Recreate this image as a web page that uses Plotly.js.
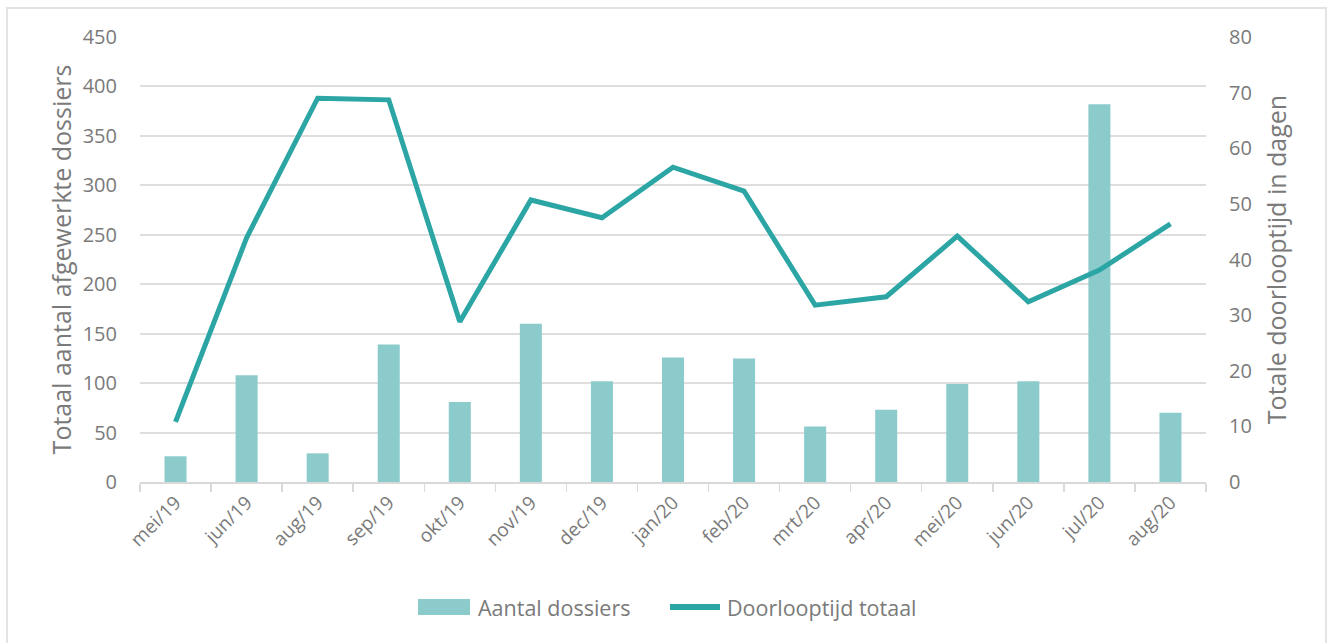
<!DOCTYPE html>
<html>
<head>
<meta charset="utf-8">
<script src="https://cdn.plot.ly/plotly-3.0.1.min.js"></script>
<style>
  html, body { margin: 0; padding: 0; background: #fff; }
  #wrap { position: relative; width: 1333px; height: 643px; overflow: hidden; }
  #frame { position: absolute; left: 6px; top: 7px; width: 1321px; height: 650px; border: 2px solid #e3e3e3; box-sizing: border-box; pointer-events: none; }
  #chart { position: absolute; left: 0; top: 0; width: 1333px; height: 643px; }
</style>
</head>
<body>
<div id="wrap">
  <div id="chart"></div>
  <div id="frame"></div>
</div>
<script>
const categories = ["mei/19","jun/19","aug/19","sep/19","okt/19","nov/19","dec/19","jan/20","feb/20","mrt/20","apr/20","mei/20","jun/20","jul/20","aug/20"];
const aantalDossiers = [26, 108, 29, 139, 81, 160, 102, 126, 125, 56, 73, 99, 102, 382, 70];
const doorlooptijdTotaal = [10.8, 43.9, 69.0, 68.7, 28.8, 50.7, 47.5, 56.6, 52.3, 31.8, 33.3, 44.2, 32.4, 38.1, 46.4];
const leftTicks = [0, 50, 100, 150, 200, 250, 300, 350, 400, 450];
const rightTicks = [0, 10, 20, 30, 40, 50, 60, 70, 80];
const legendNames = ["Aantal dossiers", "Doorlooptijd totaal"];

const FONT = "'Open Sans', Lato, sans-serif";
const GREY = "#7a7a7a";
const BAR = "#8ccbcc";
const LINE = "#2ca5a5";

const traces = [
  {
    type: "bar",
    name: legendNames[0],
    x: categories,
    y: aantalDossiers,
    marker: { color: BAR },
    yaxis: "y"
  },
  {
    type: "scatter",
    mode: "lines",
    name: legendNames[1],
    x: categories,
    y: doorlooptijdTotaal,
    line: { color: LINE, width: 5 },
    yaxis: "y2"
  }
];

// custom legend (paper coordinates: plot area x 140..1206, y 37..482)
const W = 1066, H = 445;
const px = v => (v - 140) / W;
const py = v => (482 - v) / H;

const layout = {
  width: 1333,
  height: 643,
  margin: { l: 140, r: 127, t: 37, b: 161 },
  paper_bgcolor: "#ffffff",
  plot_bgcolor: "#ffffff",
  font: { family: FONT, color: GREY, size: 18 },
  bargap: 0.69,
  showlegend: false,
  xaxis: {
    type: "category",
    automargin: false,
    tickangle: -45,
    tickfont: { size: 19, color: GREY },
    ticks: "outside",
    tickson: "boundaries",
    ticklen: 8,
    tickwidth: 1.5,
    tickcolor: "#d9d9d9",
    showline: true,
    linecolor: "#d9d9d9",
    linewidth: 2,
    showgrid: false,
    fixedrange: true
  },
  yaxis: {
    automargin: false,
    range: [0, 450],
    tickvals: leftTicks,
    ticktext: leftTicks.map(String),
    showgrid: true,
    gridcolor: "#dedede",
    gridwidth: 2,
    zeroline: false,
    ticks: "",
    ticklabelstandoff: 22,
    tickfont: { size: 20, color: GREY },
    title: { text: "Totaal aantal afgewerkte dossiers", font: { size: 25, color: GREY }, standoff: 3 }
  },
  yaxis2: {
    automargin: false,
    range: [0, 80],
    tickvals: rightTicks,
    ticktext: rightTicks.map(String),
    overlaying: "y",
    side: "right",
    showgrid: false,
    zeroline: false,
    ticks: "",
    ticklabelstandoff: 22,
    tickfont: { size: 20, color: GREY },
    title: { text: "Totale doorlooptijd in dagen", font: { size: 25, color: GREY }, standoff: 17 }
  },
  shapes: [
    { type: "rect", xref: "paper", yref: "paper", x0: px(418), x1: px(470), y0: py(615), y1: py(599), fillcolor: BAR, line: { width: 0 } },
    { type: "line", xref: "paper", yref: "paper", x0: px(670), x1: px(720), y0: py(607), y1: py(607), line: { color: LINE, width: 6 } }
  ],
  annotations: [
    { xref: "paper", yref: "paper", x: px(476), y: py(607), xanchor: "left", yanchor: "middle", showarrow: false, text: legendNames[0], font: { size: 21.5, color: GREY } },
    { xref: "paper", yref: "paper", x: px(725), y: py(607), xanchor: "left", yanchor: "middle", showarrow: false, text: legendNames[1], font: { size: 21.5, color: GREY } }
  ]
};

Plotly.newPlot("chart", traces, layout, { displayModeBar: false, staticPlot: true });
</script>
</body>
</html>
